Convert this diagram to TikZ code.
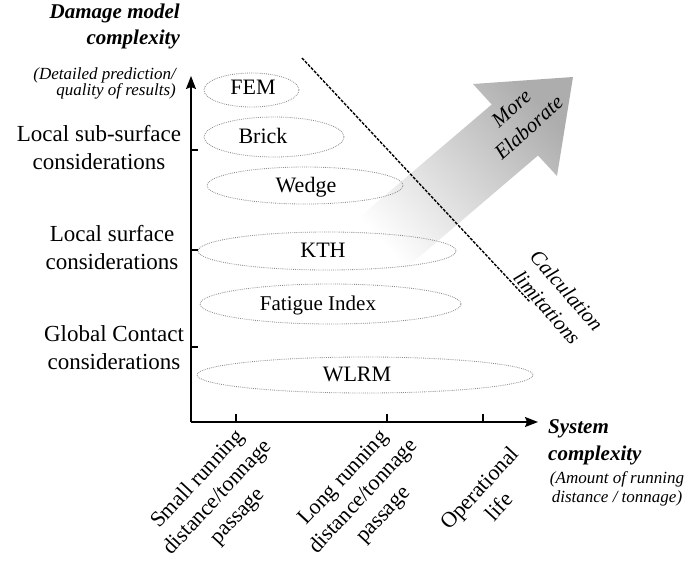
\documentclass[tikz,border=0pt]{standalone}
\usepackage{fontspec}
\setmainfont{Liberation Serif}
\usetikzlibrary{shapes.geometric,arrows.meta}
\begin{document}
\begin{tikzpicture}[x=1pt,y=-1pt,
  oval/.style={ellipse, draw=gray!90, line width=0.85pt, dash pattern=on 0.8pt off 1.1pt, inner sep=0pt},
  elab/.style={font=\fontsize{22}{26}\selectfont, inner sep=0pt},
  side/.style={font=\fontsize{23}{28}\selectfont, align=center, inner sep=0pt},
  xlab/.style={font=\fontsize{22}{27}\selectfont, align=center, inner sep=0pt, rotate=47},
  axisline/.style={line width=1.4pt, -{Stealth[length=13pt,width=10pt,inset=2pt]}},
  tickline/.style={line width=1.3pt},
  limline/.style={line width=1.4pt, dash pattern=on 3pt off 1.4pt},
]
\useasboundingbox (0,0) rectangle (684,570);

% big shaded arrow
\coordinate (s1) at (352,223.5);
\coordinate (e1) at (491.7,104.5);
\coordinate (h1) at (473,84);
\coordinate (tip) at (573,77);
\coordinate (h2) at (557,176);
\coordinate (e2) at (538,155.5);
\coordinate (s2) at (398.6,274.5);
\shade[bottom color=white, top color=gray!64, shading angle=-48]
  (s1) -- (e1) -- (h1) -- (tip) -- (h2) -- (e2) -- (s2) -- cycle;
\node[font=\fontsize{21}{26}\selectfont\itshape, align=center, inner sep=0pt, rotate=42] (more) at (520,118) {More\\Elaborate};

% ellipses
\node[oval, minimum width=95pt, minimum height=34pt] (femE) at (251.5,90) {};
\node[oval, minimum width=140pt, minimum height=40pt] (brickE) at (274,137) {};
\node[oval, minimum width=196pt, minimum height=37pt] (wedgeE) at (305,185.5) {};
\node[oval, minimum width=258pt, minimum height=38pt] (kthE) at (327,251) {};
\node[oval, minimum width=261pt, minimum height=40pt] (fatE) at (330.5,304) {};
\node[oval, minimum width=336pt, minimum height=36pt] (wlrmE) at (365,375) {};
\node[elab] (fem) at (253,87.5) {FEM};
\node[elab] (brick) at (263,135.5) {Brick};
\node[elab] (wedge) at (306,187.5) {Wedge};
\node[elab] (kth) at (323,250.5) {KTH};
\node[elab, font=\fontsize{21}{26}\selectfont] (fat) at (318,305) {Fatigue Index};
\node[elab] (wlrm) at (357,374.5) {WLRM};

% calculation limitations
\coordinate (d1) at (302,58);
\coordinate (d2) at (530,302);
\draw[limline] (d1) -- (d2);
\node[font=\fontsize{21}{26}\selectfont\itshape, align=center, inner sep=0pt, rotate=-49] (calc) at (557,299) {Calculation\\limitations};

% axes
\coordinate (O) at (191,422);
\coordinate (Ytop) at (191,76);
\coordinate (Xend) at (538,422);
\draw[axisline] (O) -- (Ytop);
\draw[axisline] (O) -- (Xend);
\foreach \yy/\nm in {150/ya,250/yb,347/yc}{
  \coordinate (\nm) at (191,\yy);
  \draw[tickline] (\nm) -- ++(7,0);
}
\foreach \xx/\nm in {236/xa,387/xb,483/xc}{
  \coordinate (\nm) at (\xx,422);
  \draw[tickline] (\nm) -- ++(0,-8);
}

% y-axis labels
\node[font=\fontsize{21}{26}\selectfont\bfseries\itshape, align=right, anchor=north east, inner sep=0pt] (dmc) at (180,4) {Damage model\\complexity};
\node[font=\fontsize{17}{16}\selectfont\itshape, align=right, anchor=north east, inner sep=0pt] (dmcs) at (176,67.5) {(Detailed prediction/\\quality of results)};
\node[side] (lss) at (99,148) {Local sub-surface\\considerations};
\node[side] (ls) at (112,248) {Local surface\\considerations};
\node[side] (gc) at (114,348) {Global Contact\\considerations};

% x-axis labels
\node[xlab] (small) at (218,498) {Small running\\distance/tonnage\\passage};
\node[xlab] (long) at (364,497) {Long running\\distance/tonnage\\passage};
\node[xlab] (oper) at (489,497) {Operational\\life};
\node[font=\fontsize{21}{27}\selectfont\bfseries\itshape, align=left, anchor=north west, inner sep=0pt] (sys) at (548,419) {System\\complexity};
\node[font=\fontsize{17}{19}\selectfont\itshape, align=center, anchor=north, inner sep=0pt] (sysd) at (617,471.5) {(Amount of running\\distance / tonnage)};
\end{tikzpicture}
\end{document}
